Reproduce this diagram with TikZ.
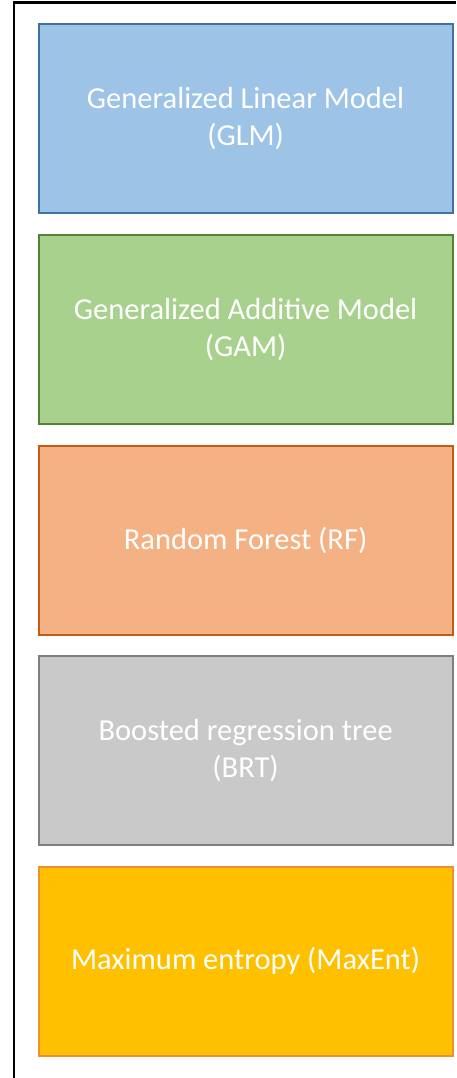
\documentclass[tikz,border=0pt]{standalone}
\usepackage{fontspec}
\setmainfont{Carlito}
\definecolor{glmfill}{HTML}{9DC3E6}\definecolor{glmdraw}{HTML}{41719C}
\definecolor{gamfill}{HTML}{A9D18E}\definecolor{gamdraw}{HTML}{548235}
\definecolor{rffill}{HTML}{F4B183}\definecolor{rfdraw}{HTML}{C55A11}
\definecolor{brtfill}{HTML}{C9C9C9}\definecolor{brtdraw}{HTML}{7F7F7F}
\definecolor{mefill}{HTML}{FFC000}\definecolor{medraw}{HTML}{EE8E35}
\begin{document}
\begin{tikzpicture}[x=1pt,y=-1pt,
  model/.style={rectangle,line width=2.2pt,minimum width=414pt,minimum height=189pt,
    anchor=north west,inner sep=0pt,text=white,align=center,
    font=\fontsize{30.5}{37}\selectfont}]
\useasboundingbox (0,0) rectangle (456,1078);
\draw[line width=2.5pt,black] (14,1078) -- (14,2.5) -- (456,2.5);
\node[model,fill=glmfill,draw=glmdraw] (glm) at (37.5,23) {Generalized Linear Model\\(GLM)};
\node[model,fill=gamfill,draw=gamdraw] (gam) at (37.5,234) {Generalized Additive Model\\(GAM)};
\node[model,fill=rffill,draw=rfdraw] (rf) at (37.5,444.5) {Random Forest (RF)};
\node[model,fill=brtfill,draw=brtdraw] (brt) at (37.5,655) {Boosted regression tree\\(BRT)};
\node[model,fill=mefill,draw=medraw] (me) at (37.5,865.5) {Maximum entropy (MaxEnt)};
\end{tikzpicture}
\end{document}
